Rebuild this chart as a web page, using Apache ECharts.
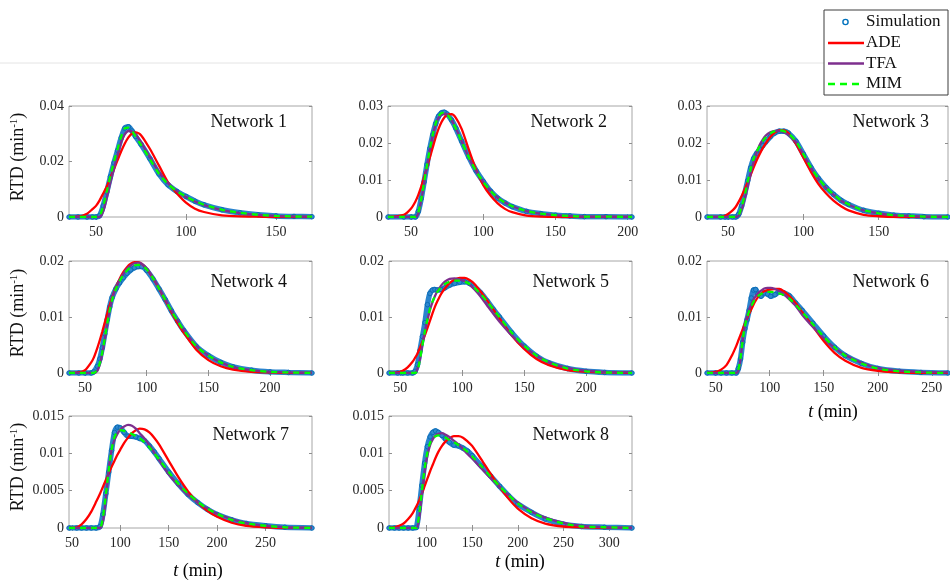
<!DOCTYPE html>
<html><head><meta charset="utf-8">
<script src="https://cdn.jsdelivr.net/npm/echarts@6/dist/echarts.min.js"></script>
<style>html,body{margin:0;padding:0;background:#fff}#c{width:950px;height:581px}</style>
</head><body><div id="c"></div>
<script>
// ---------- DATA ----------
const seriesNames = ['Simulation', 'ADE', 'TFA', 'MIM'];
const panelTitles = ['Network 1','Network 2','Network 3','Network 4','Network 5','Network 6','Network 7','Network 8'];

const t1 = [35,40,45,48,50,52,54,56,58,60,62,64,66,68,70,72,75,80,85,90,95,100,105,110,120,130,140,150,160,170];
const sim1 = [0,0,0,0,0,0.0005,0.004,0.009,0.0145,0.0195,0.024,0.0285,0.032,0.0325,0.031,0.029,0.0262,0.021,0.0155,0.0116,0.0092,0.0074,0.0057,0.0044,0.0026,0.0015,0.0008,0.0004,0.0002,0.0001];
const ade1 = [0,0.0001,0.0012,0.0028,0.004,0.006,0.0085,0.011,0.0142,0.0172,0.0205,0.0237,0.0265,0.0287,0.0301,0.0305,0.0295,0.0245,0.0185,0.0125,0.0085,0.0052,0.003,0.0018,0.0006,0.0002,0.0001,0,0,0];
const tfa1 = [0,0,0,0,0,0,0.002,0.007,0.0125,0.0175,0.0225,0.027,0.0298,0.031,0.0308,0.0298,0.027,0.0215,0.0162,0.0122,0.0093,0.0072,0.0056,0.0043,0.0025,0.0014,0.0008,0.0004,0.0002,0.0001];
const mim1 = [0,0,0,0,0,0.0003,0.004,0.0092,0.0148,0.02,0.0245,0.029,0.032,0.0322,0.031,0.029,0.026,0.0208,0.0156,0.0118,0.0093,0.0074,0.0057,0.0044,0.0026,0.0015,0.0008,0.0004,0.0002,0.0001];

const t2 = [34,45,50,53,55,57,59,61,63,65,67,69,71,73,75,78,81,85,90,95,100,105,110,115,120,130,140,150,160,170,185,203];
const sim2 = [0,0,0,0,0.0015,0.005,0.0095,0.0142,0.0185,0.0222,0.0252,0.0272,0.0281,0.0283,0.0278,0.0262,0.024,0.0205,0.0162,0.0125,0.0096,0.007,0.0051,0.0038,0.0028,0.0015,0.0009,0.0005,0.0003,0.0001,0.0001,0];
const ade2 = [0,0.0006,0.0023,0.0042,0.006,0.0082,0.0107,0.0134,0.0161,0.0188,0.0215,0.0238,0.0256,0.0269,0.0276,0.0278,0.0268,0.0238,0.0182,0.0128,0.0086,0.0058,0.0037,0.0022,0.0013,0.0004,0.0001,0,0,0,0,0];
const tfa2 = [0,0,0,0,0.001,0.0045,0.009,0.0138,0.0182,0.022,0.025,0.0268,0.0277,0.0279,0.0276,0.0262,0.024,0.0205,0.016,0.0124,0.0095,0.0071,0.0052,0.0039,0.0029,0.0016,0.0009,0.0005,0.0003,0.0001,0.0001,0];
const mim2 = [0,0,0,0,0.0012,0.0048,0.0093,0.014,0.0184,0.0222,0.0252,0.0272,0.0281,0.0282,0.0277,0.0261,0.0239,0.0204,0.0161,0.0124,0.0095,0.0071,0.0052,0.0039,0.0029,0.0016,0.0009,0.0005,0.0003,0.0001,0.0001,0];

const t3 = [36,45,48,50,53,55,57,59,61,63,65,67,69,71,73,75,78,81,84,87,90,95,100,105,110,115,120,125,130,140,150,160,170,180,196];
const sim3 = [0,0,0,0,0,0,0.0007,0.003,0.0062,0.0098,0.0133,0.0158,0.0172,0.0182,0.0193,0.0203,0.0217,0.0227,0.0232,0.0232,0.0227,0.0205,0.017,0.0134,0.0104,0.008,0.0061,0.0045,0.0034,0.0018,0.001,0.0005,0.0003,0.0001,0];
const ade3 = [0,0,0.0003,0.0008,0.0018,0.0027,0.0041,0.0057,0.0075,0.0094,0.0114,0.0134,0.0153,0.017,0.0186,0.0199,0.0216,0.0228,0.0234,0.0234,0.0227,0.0198,0.016,0.0122,0.0089,0.0064,0.0044,0.0029,0.0018,0.0006,0.0002,0,0,0,0];
const tfa3 = [0,0,0,0,0,0,0.0003,0.002,0.0048,0.0082,0.0118,0.0149,0.0175,0.0195,0.0209,0.022,0.0229,0.0233,0.0233,0.0229,0.0222,0.0203,0.0169,0.0133,0.0103,0.0079,0.006,0.0044,0.0033,0.0018,0.001,0.0005,0.0003,0.0001,0];
const mim3 = [0,0,0,0,0,0,0.0005,0.0028,0.0058,0.0095,0.013,0.0158,0.0177,0.0192,0.0205,0.0215,0.0226,0.0232,0.0234,0.0232,0.0226,0.0205,0.017,0.0134,0.0104,0.008,0.0061,0.0045,0.0034,0.0018,0.001,0.0005,0.0003,0.0001,0];

const t4 = [37,45,50,55,57,60,62,64,66,68,70,72,75,78,81,84,87,90,93,96,100,105,110,115,120,125,130,140,150,160,170,185,200,215,234];
const sim4 = [0,0,0,0,0.0002,0.0012,0.0025,0.0045,0.007,0.0095,0.0118,0.0135,0.015,0.0161,0.017,0.0178,0.0184,0.0188,0.019,0.019,0.0183,0.0168,0.015,0.0131,0.0111,0.0093,0.0076,0.0048,0.0031,0.0019,0.0011,0.0005,0.0002,0.0001,0];
const ade4 = [0,0.0001,0.0005,0.0019,0.0027,0.0045,0.0059,0.0074,0.009,0.0106,0.0121,0.0135,0.0153,0.0168,0.018,0.0189,0.0195,0.0198,0.0198,0.0195,0.0186,0.017,0.0151,0.013,0.0109,0.0089,0.0072,0.0042,0.0023,0.0012,0.0006,0.0002,0.0001,0,0];
const tfa4 = [0,0,0,0,0,0.0004,0.0016,0.0035,0.006,0.0087,0.0112,0.0132,0.0152,0.0166,0.0177,0.0186,0.0192,0.0196,0.0197,0.0195,0.0187,0.0171,0.0152,0.0132,0.0112,0.0094,0.0077,0.0049,0.0031,0.0019,0.0011,0.0005,0.0002,0.0001,0];
const mim4 = [0,0,0,0,0,0.0006,0.0018,0.0037,0.0062,0.0088,0.0112,0.0131,0.015,0.0164,0.0175,0.0183,0.0189,0.0192,0.0193,0.0192,0.0185,0.017,0.0151,0.0131,0.0111,0.0093,0.0076,0.0048,0.0031,0.0019,0.0011,0.0005,0.0002,0.0001,0];

const t5 = [41,48,52,56,60,62,64,66,68,70,72,74,76,78,80,83,86,90,94,98,102,106,110,115,120,125,130,140,150,160,170,185,200,215,237];
const sim5 = [0,0,0,0,0,0.0003,0.0015,0.004,0.0065,0.009,0.0122,0.0142,0.0148,0.0149,0.0148,0.0149,0.0152,0.0157,0.016,0.0162,0.0163,0.016,0.0154,0.0143,0.0129,0.0114,0.01,0.0072,0.0048,0.003,0.0018,0.0008,0.0003,0.0001,0];
const ade5 = [0,0.0001,0.0004,0.001,0.002,0.0027,0.0035,0.0045,0.0056,0.0068,0.008,0.0093,0.0106,0.0118,0.0128,0.0141,0.0151,0.0161,0.0167,0.017,0.017,0.0166,0.0159,0.0145,0.013,0.0114,0.0098,0.0067,0.0043,0.0025,0.0014,0.0005,0.0002,0.0001,0];
const tfa5 = [0,0,0,0,0,0,0.0008,0.0025,0.0052,0.0075,0.0094,0.0112,0.0126,0.0137,0.0146,0.0156,0.0163,0.0168,0.0169,0.0167,0.0164,0.0158,0.0149,0.0136,0.0121,0.0106,0.0092,0.0067,0.0047,0.0031,0.0019,0.0009,0.0004,0.0002,0.0001];
const mim5 = [0,0,0,0,0,0,0.0004,0.0025,0.005,0.0075,0.0096,0.0114,0.0127,0.0137,0.0145,0.0153,0.0159,0.0163,0.0165,0.0165,0.0163,0.0159,0.0152,0.0141,0.0128,0.0114,0.01,0.0072,0.0049,0.0031,0.0019,0.0008,0.0003,0.0001,0];

const t6 = [42,50,55,60,65,69,71,73,75,77,79,81,83,85,87,89,92,95,98,101,105,109,113,118,124,130,140,150,160,170,185,200,220,240,265];
const sim6 = [0,0,0,0,0,0,0.0008,0.0025,0.0055,0.0079,0.0095,0.0112,0.0134,0.0148,0.0149,0.0141,0.0137,0.0143,0.0141,0.0137,0.014,0.0145,0.0143,0.0138,0.0125,0.0112,0.0089,0.0066,0.0046,0.0031,0.0017,0.0008,0.0003,0.0001,0];
const ade6 = [0,0.0002,0.0006,0.0014,0.0031,0.0048,0.0058,0.0068,0.0078,0.0088,0.0097,0.0106,0.0114,0.0122,0.0129,0.0135,0.0142,0.0146,0.0148,0.0149,0.015,0.015,0.0146,0.0138,0.0125,0.0109,0.0083,0.0057,0.0036,0.0022,0.0009,0.0004,0.0001,0,0];
const tfa6 = [0,0,0,0,0,0,0.0004,0.0025,0.0058,0.0084,0.0101,0.0113,0.0123,0.0131,0.0137,0.0142,0.0147,0.0151,0.0152,0.0152,0.015,0.0146,0.0141,0.0132,0.012,0.0104,0.0082,0.0062,0.0045,0.0032,0.0018,0.0009,0.0004,0.0002,0.0001];
const mim6 = [0,0,0,0,0,0,0.0006,0.0027,0.0058,0.0083,0.0099,0.011,0.0119,0.0127,0.0133,0.0137,0.0141,0.0144,0.0145,0.0145,0.0144,0.0142,0.0139,0.0133,0.0122,0.0109,0.0087,0.0065,0.0046,0.0031,0.0017,0.0008,0.0003,0.0001,0];

const t7 = [47,55,60,65,70,75,79,82,85,88,91,94,97,100,104,108,112,116,120,125,130,135,140,150,160,170,180,190,200,215,230,250,270,298];
const sim7 = [0,0,0,0,0,0,0.0002,0.0018,0.0046,0.0075,0.0104,0.0128,0.0135,0.0134,0.0128,0.0123,0.0123,0.0122,0.012,0.0117,0.011,0.0102,0.0093,0.0075,0.0059,0.0045,0.0034,0.0025,0.0018,0.0011,0.0006,0.0003,0.0001,0];
const ade7 = [0,0.0001,0.0005,0.0012,0.0022,0.0035,0.0046,0.0055,0.0064,0.0073,0.0082,0.009,0.0098,0.0105,0.0114,0.0121,0.0127,0.0131,0.0133,0.0132,0.0128,0.0121,0.0112,0.009,0.0068,0.0049,0.0034,0.0023,0.0015,0.0007,0.0003,0.0001,0,0];
const tfa7 = [0,0,0,0,0,0,0,0.0008,0.0038,0.0078,0.0105,0.0118,0.0126,0.0132,0.0136,0.0138,0.0137,0.0133,0.0127,0.012,0.0111,0.0101,0.0091,0.0072,0.0057,0.0044,0.0034,0.0026,0.0019,0.0012,0.0007,0.0003,0.0001,0];
const mim7 = [0,0,0,0,0,0,0,0.0014,0.0044,0.0077,0.0105,0.0122,0.0129,0.0131,0.013,0.0128,0.0126,0.0123,0.012,0.0115,0.0108,0.01,0.0092,0.0075,0.0059,0.0046,0.0035,0.0026,0.0019,0.0011,0.0006,0.0003,0.0001,0];

const t8 = [59,65,70,75,80,85,89,92,95,98,101,104,107,110,113,117,121,125,130,135,140,145,150,160,170,180,190,200,215,230,250,270,295,325];
const sim8 = [0,0,0,0,0,0,0.0001,0.0026,0.0057,0.0087,0.0109,0.0122,0.0128,0.013,0.0128,0.0124,0.0119,0.0115,0.0111,0.011,0.0107,0.0103,0.0097,0.0083,0.007,0.0056,0.0043,0.0032,0.0021,0.0012,0.0005,0.0002,0.0001,0];
const ade8 = [0,0.0001,0.0003,0.0006,0.0012,0.002,0.0029,0.0037,0.0046,0.0056,0.0066,0.0076,0.0085,0.0094,0.0102,0.011,0.0116,0.012,0.0123,0.0123,0.0121,0.0116,0.011,0.0092,0.0073,0.0055,0.0039,0.0026,0.0013,0.0006,0.0002,0.0001,0,0];
const tfa8 = [0,0,0,0,0,0,0,0.0012,0.0045,0.0075,0.0097,0.0111,0.0119,0.0124,0.0126,0.0127,0.0125,0.0122,0.0117,0.0112,0.0106,0.0099,0.0093,0.008,0.0067,0.0055,0.0044,0.0034,0.0022,0.0014,0.0007,0.0003,0.0001,0];
const mim8 = [0,0,0,0,0,0,0,0.0018,0.005,0.008,0.0101,0.0114,0.012,0.0123,0.0124,0.0123,0.0121,0.0118,0.0115,0.0111,0.0107,0.0102,0.0096,0.0083,0.0069,0.0056,0.0044,0.0033,0.0021,0.0013,0.0006,0.0002,0.0001,0];

// axis ranges and tick labels
const xMins = [35,34,36,37,41,42,47,59];
const xMaxs = [170,203,196,234,237,265,298,325];
const yMaxs = [0.04,0.03,0.03,0.02,0.02,0.02,0.015,0.015];
const ySteps = [0.02,0.01,0.01,0.01,0.01,0.01,0.005,0.005];
const xTicks1 = [50,100,150];
const xTicks2 = [50,100,150,200];
const xTicks3 = [50,100,150];
const xTicks4 = [50,100,150,200];
const xTicks5 = [50,100,150,200];
const xTicks6 = [50,100,150,200,250];
const xTicks7 = [50,100,150,200,250];
const xTicks8 = [100,150,200,250,300];
const yAxisTitle = 'RTD (min';
const yAxisTitleSup = '-1';
const xAxisTitle = ' (min)';

// ---------- LAYOUT / STYLE ----------
const FONT = "'Liberation Serif','Times New Roman',serif";
const layout = [
  {l:69,t:106,w:243,h:111},{l:388,t:106,w:244,h:111},{l:707,t:106,w:241,h:111},
  {l:69,t:261,w:243,h:112},{l:389,t:261,w:243,h:112},{l:707,t:261,w:241,h:112},
  {l:69,t:416,w:243,h:112},{l:389,t:416,w:243,h:112}
];
const titlePos = [[287,122],[607,122],[929,122],[287,282],[609,282],[929,282],[289,435],[609,435]];
const COLORS = {sim:'#0b6cb4', simFill:'#2f88d0', simBand:'#2a84cd', ade:'#ff0000', tfa:'#7E2F8E', mim:'#00ff00'};

const panels = [
  {t:t1,s:sim1,a:ade1,f:tfa1,m:mim1,x:xTicks1},
  {t:t2,s:sim2,a:ade2,f:tfa2,m:mim2,x:xTicks2},
  {t:t3,s:sim3,a:ade3,f:tfa3,m:mim3,x:xTicks3},
  {t:t4,s:sim4,a:ade4,f:tfa4,m:mim4,x:xTicks4},
  {t:t5,s:sim5,a:ade5,f:tfa5,m:mim5,x:xTicks5},
  {t:t6,s:sim6,a:ade6,f:tfa6,m:mim6,x:xTicks6},
  {t:t7,s:sim7,a:ade7,f:tfa7,m:mim7,x:xTicks7},
  {t:t8,s:sim8,a:ade8,f:tfa8,m:mim8,x:xTicks8}
];

const grid = [], xAxis = [], yAxis = [], series = [], graphic = [];
const tickStyle = {color:'#8f8f8f', width:1};
const labelStyle = {fontFamily:FONT, fontSize:14, color:'#262626'};

panels.forEach((p, i) => {
  const L = layout[i];
  grid.push({left:L.l, top:L.t, width:L.w, height:L.h, show:true, borderColor:'#a6a6a6', borderWidth:1, containLabel:false});
  const xBase = {type:'value', gridIndex:i, min:xMins[i], max:xMaxs[i], axisLine:{show:false}, splitLine:{show:false}};
  xAxis.push(Object.assign({}, xBase, {position:'bottom',
    axisTick:{show:true, inside:true, length:3, customValues:p.x, lineStyle:tickStyle},
    axisLabel:Object.assign({customValues:p.x, margin:8}, labelStyle)}));
  xAxis.push(Object.assign({}, xBase, {position:'top',
    axisTick:{show:true, inside:true, length:3, customValues:p.x, lineStyle:tickStyle},
    axisLabel:{show:false}}));
  const yBase = {type:'value', gridIndex:i, min:0, max:yMaxs[i], interval:ySteps[i], axisLine:{show:false}, splitLine:{show:false}};
  yAxis.push(Object.assign({}, yBase, {position:'left',
    axisTick:{show:true, inside:true, length:3, lineStyle:tickStyle},
    axisLabel:Object.assign({margin:5}, labelStyle)}));
  yAxis.push(Object.assign({}, yBase, {position:'right',
    axisTick:{show:true, inside:true, length:3, lineStyle:tickStyle},
    axisLabel:{show:false}}));
  const xi = 2*i, yi = 2*i;
  const pts = arr => p.t.map((x, j) => [x, arr[j]]);
  series.push({type:'line', name:seriesNames[0], xAxisIndex:xi, yAxisIndex:yi, data:pts(p.s), smooth:0.25,
    symbol:'circle', symbolSize:4.5, showSymbol:true,
    itemStyle:{color:COLORS.simFill, borderColor:COLORS.sim, borderWidth:1},
    lineStyle:{color:COLORS.simBand, width:5.5}, z:1});
  series.push({type:'line', name:seriesNames[1], xAxisIndex:xi, yAxisIndex:yi, data:pts(p.a), smooth:0.25,
    symbol:'none', lineStyle:{color:COLORS.ade, width:2.3}, z:2});
  series.push({type:'line', name:seriesNames[2], xAxisIndex:xi, yAxisIndex:yi, data:pts(p.f), smooth:0.25,
    symbol:'none', lineStyle:{color:COLORS.tfa, width:2.3}, z:3});
  series.push({type:'line', name:seriesNames[3], xAxisIndex:xi, yAxisIndex:yi, data:pts(p.m), smooth:0.25,
    symbol:'none', lineStyle:{color:COLORS.mim, width:2.3, type:[6,5]}, z:4});
  graphic.push({type:'text', x:titlePos[i][0], y:titlePos[i][1], z:50,
    style:{text:panelTitles[i], fontFamily:FONT, fontSize:18, fill:'#111', align:'right', verticalAlign:'middle'}});
});

// y axis titles (left column)
const yTitleRows = [[18,157],[18,313],[18,467]];
yTitleRows.forEach(([x, y]) => {
  graphic.push({type:'text', x:x, y:y, rotation:Math.PI/2, z:50,
    style:{text:'{a|' + yAxisTitle + '}{s|' + yAxisTitleSup + '}{a|)}', align:'center', verticalAlign:'middle',
      rich:{a:{fontFamily:FONT, fontSize:18, fill:'#111', color:'#111'}, s:{fontFamily:FONT, fontSize:11, verticalAlign:'top', color:'#111', fill:'#111'}}}});
});
// x axis titles
const xTitlePos = [[833,412],[198,571],[520,562]];
xTitlePos.forEach(([x, y]) => {
  graphic.push({type:'text', x:x, y:y, z:50,
    style:{text:'{i|t}{a|' + xAxisTitle + '}', align:'center', verticalAlign:'middle',
      rich:{i:{fontFamily:FONT, fontSize:18, fontStyle:'italic', color:'#111'}, a:{fontFamily:FONT, fontSize:18, color:'#111'}}}});
});

// faint figure edge line
graphic.push({type:'line', z:0, shape:{x1:0, y1:63, x2:824, y2:63}, style:{stroke:'#e4e4e4', lineWidth:1}});

// legend box
const LG = {x:824, y:10, w:124, h:85};
graphic.push({type:'rect', z:90, shape:{x:LG.x, y:LG.y, width:LG.w, height:LG.h}, style:{fill:'#fff', stroke:'#3c3c3c', lineWidth:1}});
const rowsY = [22, 43, 63.5, 84];
graphic.push({type:'circle', z:91, shape:{cx:845.5, cy:rowsY[0], r:2.6}, style:{fill:'#fff', stroke:'#0072BD', lineWidth:1.4}});
graphic.push({type:'line', z:91, shape:{x1:828, y1:rowsY[1], x2:864, y2:rowsY[1]}, style:{stroke:COLORS.ade, lineWidth:2.3}});
graphic.push({type:'line', z:91, shape:{x1:828, y1:rowsY[2], x2:864, y2:rowsY[2]}, style:{stroke:COLORS.tfa, lineWidth:2.3}});
graphic.push({type:'line', z:91, shape:{x1:828, y1:rowsY[3], x2:864, y2:rowsY[3]}, style:{stroke:COLORS.mim, lineWidth:2.3, lineDash:[7,5]}});
seriesNames.forEach((n, k) => {
  graphic.push({type:'text', z:92, x:866, y:rowsY[k], style:{text:n, fontFamily:FONT, fontSize:17, fill:'#111', align:'left', verticalAlign:'middle'}});
});

const chart = echarts.init(document.getElementById('c'), null, {renderer:'canvas'});
chart.setOption({
  animation:false,
  backgroundColor:'#fff',
  grid, xAxis, yAxis, series, graphic
});
</script></body></html>
